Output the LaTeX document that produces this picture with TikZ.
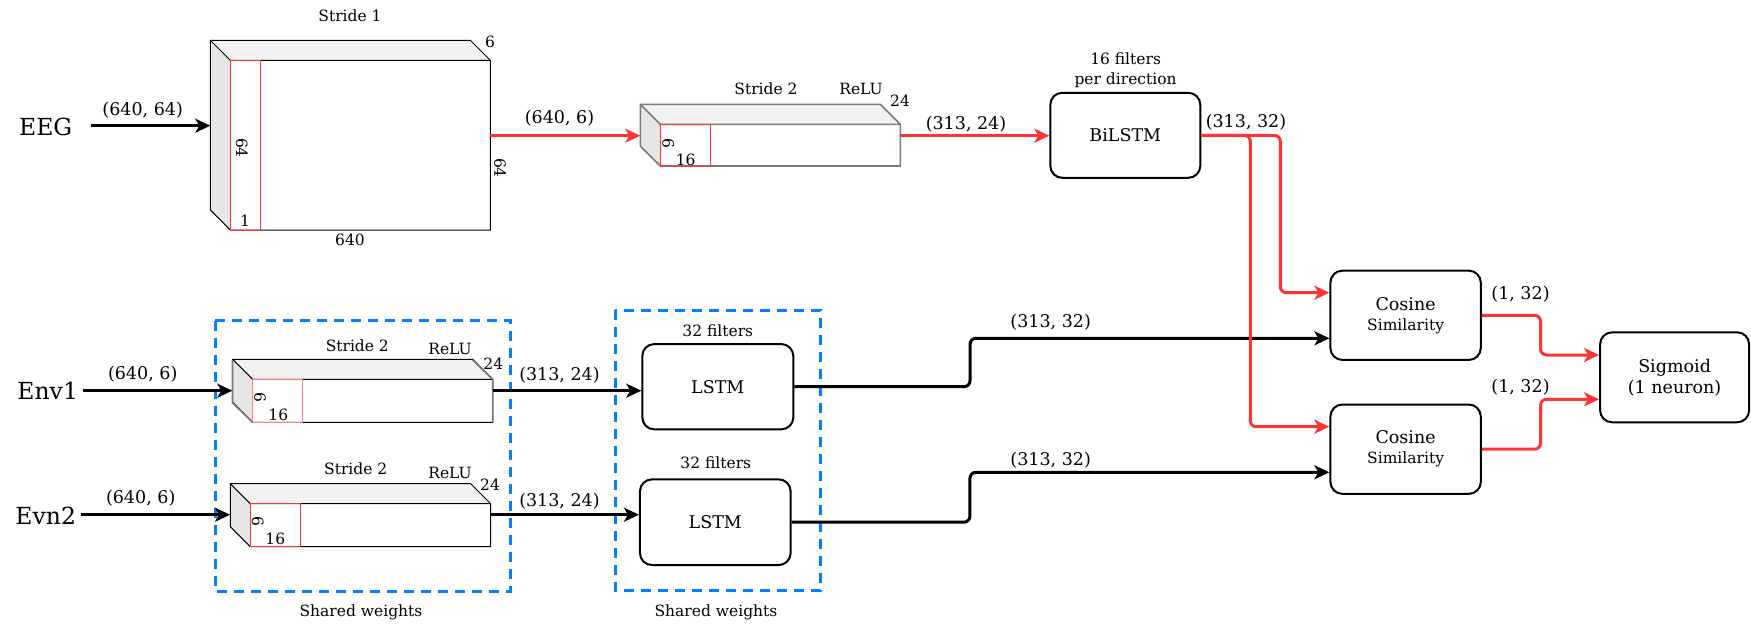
\documentclass[tikz,border=0pt]{standalone}
\usepackage{fontspec}
\setmainfont{DejaVu Serif}
\usetikzlibrary{arrows.meta}
\definecolor{myred}{HTML}{FF3333}
\definecolor{lightred}{HTML}{FF8080}
\definecolor{myblue}{HTML}{007FFF}
\definecolor{topface}{HTML}{F2F2F2}
\definecolor{sideface}{HTML}{E6E6E6}
\definecolor{cubegrey}{HTML}{7A7A7A}
\tikzset{
 sm/.style={font=\fontsize{15.5}{20}\selectfont, inner sep=0pt, align=center},
 md/.style={font=\fontsize{17.5}{21}\selectfont, inner sep=0pt},
 lg/.style={font=\fontsize{23.5}{28}\selectfont, inner sep=0pt},
 blk/.style={draw, rounded corners=12pt, line width=2pt, inner sep=0pt, align=center,
   font=\fontsize{17.5}{21}\selectfont},
 conn/.style={line width=3pt, rounded corners=6pt, -{Stealth[length=15pt,width=14pt,inset=4pt]}},
 redconn/.style={conn, draw=myred},
 blkconn/.style={conn, draw=black},
 shared/.style={draw=myblue, line width=3pt, dash pattern=on 10pt off 7pt},
 edgeblack/.style={draw=black, line width=1pt},
 edgegrey/.style={draw=cubegrey, line width=1.6pt},
}
% #1 front-left x, #2 front-top y, #3 front-right x, #4 front-bottom y, #5 red right x, #6 edge style, #7 red colour
\newcommand\mycubo[7]{%
  \fill[topface] (#1,#2) -- (#1-20,#2-20) -- (#3-20,#2-20) -- (#3,#2) -- cycle;
  \fill[sideface] (#1,#2) -- (#1-20,#2-20) -- (#1-20,#4-20) -- (#1,#4) -- cycle;
  \draw[#6, line join=miter] (#1-20,#2-20) -- (#3-20,#2-20) -- (#3,#2) -- (#3,#4) -- (#1,#4) -- (#1-20,#4-20) -- cycle;
  \draw[#6] (#1-20,#2-20) -- (#1,#2) -- (#3,#2);
  \draw[#7, line width=1pt] (#1,#2) rectangle (#5,#4);
}
\begin{document}
\begin{tikzpicture}[x=1pt,y=-1pt]
\useasboundingbox (0,0) rectangle (1751,632);

% shared-weight groups
\draw[shared] (215.3,320.7) rectangle (510.7,591);
\draw[shared] (615,310) rectangle (820.7,590);
\node[sm] (sw1) at (361,612.3) {Shared weights};
\node[sm] (sw2) at (716,612.3) {Shared weights};

% ---------- cuboid 1 (EEG conv) ----------
\mycubo{230.3}{60.3}{490.3}{230}{260.3}{edgeblack}{myred}
\coordinate (c1in) at (210.3,125.7);
\coordinate (c1out) at (490.3,135.7);
\node[sm] (c1s) at (350,16) {Stride 1};
\node[sm] (c1d) at (490,41.7) {6};
\node[sm, rotate=-90] (c1h) at (241.7,148) {64};
\node[sm] (c1k) at (245,220.7) {1};
\node[sm] (c1w) at (350,240) {640};
\node[sm, rotate=-90] (c1r) at (500,168) {64};

% ---------- cuboid 2 ----------
\mycubo{660.3}{124.3}{900.3}{166}{710.3}{edgegrey}{myred}
\coordinate (c2in) at (640.3,135.7);
\coordinate (c2out) at (900.3,135.7);
\node[sm] (c2s) at (766,89) {Stride 2};
\node[sm] (c2a) at (861,89) {ReLU};
\node[sm] (c2d) at (900,101) {24};
\node[sm, rotate=-90] (c2h) at (668.3,143.3) {6};
\node[sm] (c2k) at (685.7,160) {16};

% ---------- cuboid 3 ----------
\mycubo{252.7}{379.3}{492.7}{422.3}{302.7}{edgeblack}{lightred}
\draw[edgegrey] (232.3,360) -- (232.3,402.7) -- (252.7,422.3);
\draw[edgegrey] (472.7,360) -- (492.7,379.3) -- (492.7,422.3);
\coordinate (c3in) at (232.3,390.7);
\coordinate (c3out) at (492.7,390.7);
\node[sm] (c3s) at (357.3,345.7) {Stride 2};
\node[sm] (c3a) at (450,349.3) {ReLU};
\node[sm] (c3d) at (493.3,363.3) {24};
\node[sm, rotate=-90] (c3h) at (260,397.7) {6};
\node[sm] (c3k) at (278.3,415) {16};

% ---------- cuboid 4 ----------
\mycubo{250.3}{503.7}{490.7}{546.7}{300.3}{edgeblack}{myred}
\coordinate (c4in) at (230,514.7);
\coordinate (c4out) at (490.7,514.7);
\node[sm] (c4s) at (355.7,468.3) {Stride 2};
\node[sm] (c4a) at (450,473.3) {ReLU};
\node[sm] (c4d) at (490,485) {24};
\node[sm, rotate=-90] (c4h) at (257.7,521.7) {6};
\node[sm] (c4k) at (275.3,539) {16};

% ---------- inputs ----------
\node[lg] (eeg) at (45.7,126.7) {EEG};
\node[lg] (env1) at (47.7,390.7) {Env1};
\node[lg] (evn2) at (45.7,516) {Evn2};
\coordinate (eegout) at (90.7,125.7);
\coordinate (env1out) at (83.3,390.7);
\coordinate (evn2out) at (80.7,514.7);

% ---------- blocks ----------
\node[blk, minimum width=150pt, minimum height=85pt] (bilstm) at (1125.3,135.3) {BiLSTM};
\node[sm] (bilstmlab) at (1125.6,70.3) {16 filters\\per direction};
\node[blk, minimum width=151pt, minimum height=85.3pt] (lstm1) at (717.8,386.7) {LSTM};
\node[sm] (lstm1lab) at (717.8,330.7) {32 filters};
\node[blk, minimum width=150.7pt, minimum height=85.7pt] (lstm2) at (715.3,522.2) {LSTM};
\node[sm] (lstm2lab) at (715.8,462.7) {32 filters};
\node[blk, minimum width=150.4pt, minimum height=89.3pt] (cos1) at (1405.6,315.3)
  {Cosine\\[-1pt]{\fontsize{15.5}{18}\selectfont Similarity}};
\node[blk, minimum width=150.4pt, minimum height=89.3pt] (cos2) at (1405.6,449.2)
  {Cosine\\[-1pt]{\fontsize{15.5}{18}\selectfont Similarity}};
\node[blk, minimum width=149pt, minimum height=90pt] (sig) at (1674.6,377.3)
  {Sigmoid\\(1 neuron)};

% ---------- connectors ----------
\draw[blkconn] (eegout) -- (c1in);
\node[md] (l1) at (142.7,110.7) {(640, 64)};
\draw[redconn] (c1out) -- (c2in);
\node[md] (l2) at (559.5,118.4) {(640, 6)};
\draw[redconn] (c2out) -- (bilstm.west |- c2out);
\node[md] (l3) at (966,124) {(313, 24)};

\draw[blkconn] (env1out) -- (c3in);
\node[md] (l4) at (142.7,374) {(640, 6)};
\draw[blkconn] (evn2out) -- (c4in);
\node[md] (l5) at (140.7,498) {(640, 6)};
\draw[blkconn] (c3out) -- (lstm1.west |- c3out);
\node[md] (l6) at (559.5,375.2) {(313, 24)};
\draw[blkconn] (c4out) -- (lstm2.west |- c4out);
\node[md] (l7) at (559.5,501.4) {(313, 24)};

\draw[blkconn] (lstm1.east) -- ++(175.7,0) |- ([yshift=-23pt]cos1.west);
\node[md] (l8) at (1050.7,322.7) {(313, 32)};
\draw[blkconn] (lstm2.east) -- ++(178.3,0) |- ([yshift=-23.1pt]cos2.west);
\node[md] (l9) at (1050.7,460.7) {(313, 32)};

\draw[redconn] (bilstm.east) -- ++(79,0) |- ([yshift=22.6pt]cos1.west);
\draw[redconn] (bilstm.east) -- ++(49,0) |- ([yshift=22.5pt]cos2.west);
\node[md] (l10) at (1246,122.3) {(313, 32)};

\draw[redconn] (cos1.east) -- ++(58.7,0) |- ([yshift=22.3pt]sig.west);
\node[md] (l11) at (1520.5,294) {(1, 32)};
\draw[redconn] (cos2.east) -- ++(58.7,0) |- ([yshift=-22pt]sig.west);
\node[md] (l12) at (1520.5,387.3) {(1, 32)};
\end{tikzpicture}
\end{document}
